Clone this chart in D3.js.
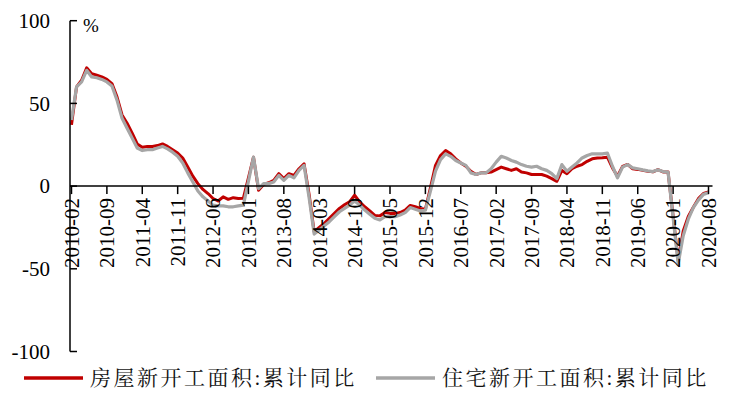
<!DOCTYPE html>
<html>
<head>
<meta charset="utf-8">
<style>
body {
    margin: 0;
    background: #fff;
}
#chart {
    width: 734px;
    height: 402px;
    display: block;
}
.tick-label {
    font-family: "Liberation Serif", "Times New Roman", serif;
    font-size: 21px;
    fill: #000;
}
.legend-label {
    font-family: "Liberation Serif", "Noto Serif CJK SC", "Noto Sans CJK SC", serif;
    font-size: 21px;
    letter-spacing: 2.5px;
    fill: #111;
}
</style>
</head>
<body>
<svg id="chart"></svg>

<script src="https://d3js.org/d3.v7.min.js"></script>
<script>
    // x categories: monthly, 2010-02 .. 2020-08
    var months = [];
    for (var y = 2010; y <= 2020; y++) {
        for (var m = 1; m <= 12; m++) {
            if ((y == 2010 && m < 2) || (y == 2020 && m > 8)) continue;
            months.push(y + "-" + (m < 10 ? "0" + m : m));
        }
    }
    const tick_labels = ["2010-02", "2010-09", "2011-04", "2011-11", "2012-06", "2013-01", "2013-08",
        "2014-03", "2014-10", "2015-05", "2015-12", "2016-07", "2017-02", "2017-09", "2018-04",
        "2018-11", "2019-06", "2020-01", "2020-08"];
    const y_ticks = [100, 50, 0, -50, -100];
    const y_tick_labels = ["100", "50", "0", "-50", "-100"];

    // 房屋新开工面积:累计同比 (%)
    const house = [
        37, 60, 64, 71.5, 68, 67, 66, 64.5, 62, 54, 43,
        38, 32, 25.5, 23.5, 24, 24, 24.5, 25.5, 24, 22, 20, 17,
        11.5, 6, 1.5, -2, -4.5, -7.5, -9, -6.5, -8, -7, -7.5, -7.3,
        5, 17.5, -2.5, 1, 2, 3.5, 7.5, 4.5, 7.5, 6.5, 10.5, 13.5,
        -5, -27.6, -25, -22.5, -19.5, -16.5, -13.5, -11.3, -9.5, -5.5, -9.5, -12.5,
        -15, -17.7, -18, -16, -16.5, -16.5, -16, -14.5, -11.7, -12.5, -13.5, -14,
        -1, 12.5, 18.5, 21.5, 19.5, 16.5, 14, 12, 9, 7, 8, 8,
        8.5, 10, 11.5, 10.5, 9.5, 10.5, 8.5, 8, 7, 7, 7, 6,
        4.5, 2.9, 9.5, 7.5, 10.5, 12, 13, 15, 16.5, 17, 17.2, 17.5,
        11, 6, 11.9, 13.1, 10.5, 10.1, 9.5, 8.9, 8.6, 10, 8.6, 8.5,
        -18, -45, -27.2, -18.4, -12.8, -7.6, -4.5, -3.6
    ];
    // 住宅新开工面积:累计同比 (%)
    const residential = [
        40, 60, 63, 70, 66, 65.5, 64.5, 63, 60.5, 52, 41,
        35, 29, 23, 21.5, 22, 22, 23, 24, 22.5, 20.5, 18, 14,
        8, 2.5, -3, -6.5, -9, -11.5, -12, -12, -12.5, -12.5, -12, -11.5,
        3, 17.5, -1.5, 1.5, 1.5, 2.5, 6.5, 3.5, 6.5, 5, 9.5, 12.5,
        -7, -29, -26.5, -24, -21.5, -18.5, -15.5, -13.5, -11.5, -9, -11.5, -14.5,
        -17, -19.5, -20.5, -18.5, -18.5, -18.5, -17.5, -16, -13, -14, -15, -14.6,
        -3, 9, 16, 19.5, 18, 15.5, 14, 12.5, 8, 7, 8, 8,
        10.5, 14.5, 18, 17, 15.5, 14.5, 13, 12, 11.5, 12, 10.5, 9.5,
        7.5, 4.5, 13, 9, 11.5, 14, 17, 18.5, 19.5, 19.5, 19.5, 20,
        12, 5, 11.5, 13, 11, 10.5, 9.8, 9.2, 8.8, 9.8, 8.8, 8.5,
        -19, -47, -30, -20, -13, -8.5, -5, -4
    ];
    const series_names = ["房屋新开工面积:累计同比", "住宅新开工面积:累计同比"];
    const series_colors = ["#C00000", "#A6A6A6"];

    const svg = d3.select("#chart");
    const axis_x = 70;
    const x = d3.scalePoint().domain(months).range([71.5, 708.5]);
    const yScale = d3.scaleLinear().domain([-100, 100]).range([351.5, 20.7]);

    drawLines();
    drawYAxis();
    drawXAxis();
    drawLegend();

    function drawYAxis() {
        var g = svg.append("g").attr("class", "y-axis");
        g.append("line")
            .attr("x1", axis_x).attr("x2", axis_x)
            .attr("y1", yScale(100)).attr("y2", yScale(-100))
            .style("stroke", "#000").style("stroke-width", 1.5);
        g.selectAll("line.ytick")
            .data(y_ticks)
            .enter()
            .append("line")
            .attr("class", "ytick")
            .attr("x1", axis_x).attr("x2", axis_x + 7)
            .attr("y1", d => yScale(d)).attr("y2", d => yScale(d))
            .style("stroke", "#000").style("stroke-width", 1.5);
        g.selectAll("text.ylab")
            .data(y_ticks)
            .enter()
            .append("text")
            .attr("class", "tick-label")
            .attr("x", 50)
            .attr("y", d => yScale(d))
            .attr("dy", "0.35em")
            .attr("text-anchor", "end")
            .text((d, i) => y_tick_labels[i]);
        g.append("text")
            .attr("class", "tick-label")
            .attr("x", 83)
            .attr("y", 25)
            .attr("dy", "0.35em")
            .style("font-size", "19px")
            .text("%");
    }

    function drawXAxis() {
        var g = svg.append("g").attr("class", "x-axis");
        var y0 = yScale(0);
        g.append("line")
            .attr("x1", axis_x).attr("x2", x(months[months.length - 1]) + 4)
            .attr("y1", y0).attr("y2", y0)
            .style("stroke", "#000").style("stroke-width", 1.5);
        g.selectAll("line.xtick")
            .data(tick_labels)
            .enter()
            .append("line")
            .attr("class", "xtick")
            .attr("x1", d => x(d)).attr("x2", d => x(d))
            .attr("y1", y0).attr("y2", y0 + 8)
            .style("stroke", "#000").style("stroke-width", 1.5);
        g.selectAll("text.xlab")
            .data(tick_labels)
            .enter()
            .append("text")
            .attr("class", "tick-label")
            .attr("transform", d => "translate(" + x(d) + "," + (y0 + 12) + ") rotate(-90)")
            .attr("dy", "0.35em")
            .attr("text-anchor", "end")
            .text(d => d);
    }

    function drawLines() {
        var line = d3.line()
            .x((d, i) => x(months[i]))
            .y(d => yScale(d));
        svg.append("path")
            .datum(house)
            .attr("d", line)
            .style("fill", "none")
            .style("stroke", series_colors[0])
            .style("stroke-width", 3)
            .style("stroke-linejoin", "round");
        svg.append("path")
            .datum(residential)
            .attr("d", line)
            .style("fill", "none")
            .style("stroke", series_colors[1])
            .style("stroke-width", 3.2)
            .style("stroke-linejoin", "round");
    }

    function drawLegend() {
        var items = [{x: 24, tx: 90}, {x: 376, tx: 442}];
        var g = svg.append("g").attr("class", "legend");
        g.selectAll("line.leg")
            .data(items)
            .enter()
            .append("line")
            .attr("x1", d => d.x).attr("x2", d => d.x + 59)
            .attr("y1", 378).attr("y2", 378)
            .style("stroke", (d, i) => series_colors[i])
            .style("stroke-width", 3.5);
        g.selectAll("text.leg")
            .data(items)
            .enter()
            .append("text")
            .attr("class", "legend-label")
            .attr("x", d => d.tx)
            .attr("y", 378)
            .attr("dy", "0.35em")
            .text((d, i) => series_names[i]);
    }
</script>
</body>
</html>
